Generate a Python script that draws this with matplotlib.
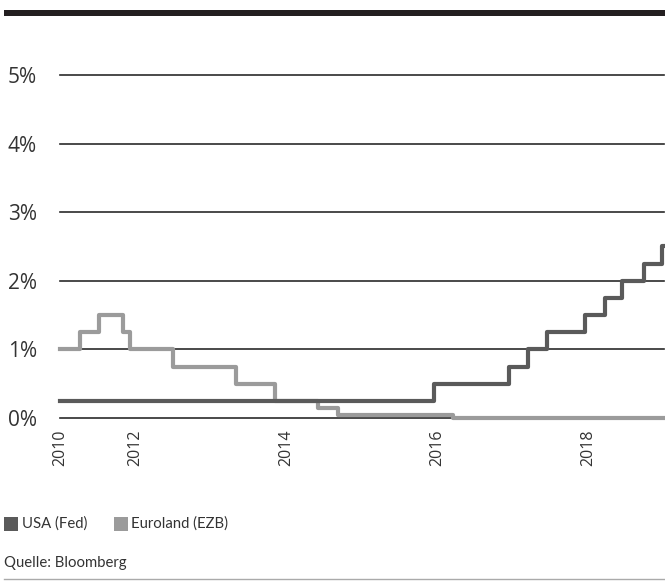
import numpy as np
import matplotlib.pyplot as plt
from matplotlib.patches import Rectangle

plt.rcParams['font.family'] = ['Open Sans', 'DejaVu Sans']

# ----------------------------
# Daten (Leitzinsen, obere Grenze in %)
# ----------------------------
fed_dates = [2011.0, 2015.96, 2016.95, 2017.2, 2017.45, 2017.95, 2018.22, 2018.45, 2018.74, 2018.97, 2019.0]
fed_rates = [0.25, 0.5, 0.75, 1.0, 1.25, 1.5, 1.75, 2.0, 2.25, 2.5, 2.5]

ezb_dates = [2011.0, 2011.26, 2011.51, 2011.84, 2011.93, 2012.5, 2013.33, 2013.85, 2014.42, 2014.68, 2016.2, 2019.0]
ezb_rates = [1.0, 1.25, 1.5, 1.25, 1.0, 0.75, 0.5, 0.25, 0.15, 0.05, 0.0, 0.0]

x_ticks = [2011.0, 2012.0, 2014.0, 2016.0, 2018.0]
x_labels = ["2010", "2012", "2014", "2016", "2018"]
y_ticks = [0, 1, 2, 3, 4, 5]
y_labels = ["0%", "1%", "2%", "3%", "4%", "5%"]

col_fed = "#5a5a5a"
col_ezb = "#9b9b9b"
col_text = "#333333"
legend_font = ['Lato', 'DejaVu Sans']

W, H = 665, 585
fig = plt.figure(figsize=(W / 100, H / 100), dpi=100)

# Achse: links 60 px, rechts 664 px, 0% bei y=418, 5% bei y=75
ax = fig.add_axes([60 / W, (H - 418) / H, 604 / W, 343 / H])
ax.set_xlim(2011.0, 2019.0)
ax.set_ylim(0, 5)

for y in y_ticks:
    ax.axhline(y, color="#2a2a2a", lw=1.2, zorder=1, clip_on=False)

ax.plot(ezb_dates, ezb_rates, drawstyle="steps-post", color=col_ezb, lw=3, zorder=2, clip_on=False)
ax.plot(fed_dates, fed_rates, drawstyle="steps-post", color=col_fed, lw=3, zorder=3, clip_on=False)

for s in ax.spines.values():
    s.set_visible(False)

ax.set_xticks(x_ticks)
ax.set_xticklabels(x_labels, rotation=90, fontsize=11.5, color=col_text)
ax.set_yticks(y_ticks)
ax.set_yticklabels(y_labels, fontsize=15, color=col_text)
ax.tick_params(axis="both", length=0)
ax.tick_params(axis="x", pad=8.5)
ax.tick_params(axis="y", pad=16.5)

# Balken oben
fig.add_artist(Rectangle((4 / W, (H - 16) / H), 661 / W, 6 / H, transform=fig.transFigure,
                         color="#231f20", lw=0))

# Legende
fig.add_artist(Rectangle((4 / W, (H - 531) / H), 14 / W, 14 / H, transform=fig.transFigure,
                         color=col_fed, lw=0))
fig.text(22 / W, (H - 524) / H, "USA (Fed)", fontsize=10.7, color=col_text, va="center", ha="left",
         family=legend_font)
fig.add_artist(Rectangle((114 / W, (H - 531) / H), 14 / W, 14 / H, transform=fig.transFigure,
                         color=col_ezb, lw=0))
fig.text(131 / W, (H - 524) / H, "Euroland (EZB)", fontsize=10.7, color=col_text, va="center", ha="left",
         family=legend_font)

fig.text(4 / W, (H - 563) / H, "Quelle: Bloomberg", fontsize=10.7, color=col_text, va="center", ha="left",
         family=legend_font)

# Linie unten
fig.add_artist(plt.Line2D([4 / W, 1.0], [(H - 579) / H] * 2, transform=fig.transFigure,
                          color="#aaaaaa", lw=1))

fig.savefig("out.png", dpi=100)
